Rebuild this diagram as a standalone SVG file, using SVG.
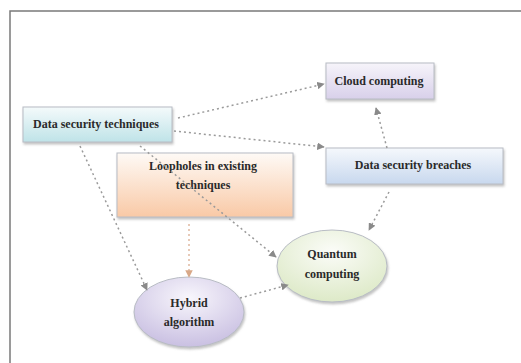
<svg xmlns="http://www.w3.org/2000/svg" width="521" height="363" viewBox="0 0 521 363">
<style>
.box{stroke:#b8bcc4;stroke-width:1}
.lbl{font-family:"Liberation Serif","Times New Roman",serif;font-weight:bold;font-size:12px;fill:#2a2a2a;text-anchor:middle}
.con{fill:none;stroke:#9a9a9a;stroke-width:1.5;stroke-dasharray:2 3}
.con2{fill:none;stroke:#e0b8a0;stroke-width:1.5;stroke-dasharray:2 3}
</style>
<defs>
<linearGradient id="gCyan" x1="0" y1="0" x2="0" y2="1"><stop offset="0" stop-color="#f4fafb"/><stop offset="1" stop-color="#bfe3e8"/></linearGradient>
<linearGradient id="gLav" x1="0" y1="0" x2="0" y2="1"><stop offset="0" stop-color="#f6f4fa"/><stop offset="1" stop-color="#d8d0ea"/></linearGradient>
<linearGradient id="gBlue" x1="0" y1="0" x2="0" y2="1"><stop offset="0" stop-color="#f5f8fc"/><stop offset="1" stop-color="#c8d8ee"/></linearGradient>
<linearGradient id="gPeach" x1="0" y1="0" x2="0" y2="1"><stop offset="0" stop-color="#fefaf6"/><stop offset="1" stop-color="#f9c9a6"/></linearGradient>
<radialGradient id="gGreen" cx="0.5" cy="0.3" r="0.75"><stop offset="0" stop-color="#fbfcf8"/><stop offset="1" stop-color="#dbe8c4"/></radialGradient>
<radialGradient id="gPurple" cx="0.5" cy="0.3" r="0.75"><stop offset="0" stop-color="#f8f6fc"/><stop offset="1" stop-color="#c6bce0"/></radialGradient>
<filter id="sh" x="-10%" y="-10%" width="130%" height="140%"><feDropShadow dx="1" dy="2" stdDeviation="1.2" flood-color="#888" flood-opacity="0.5"/></filter>
<marker id="arr" viewBox="0 0 10 10" refX="9" refY="5" markerWidth="5" markerHeight="5" orient="auto"><path d="M0,0 L10,5 L0,10 z" fill="#8a8a8a"/></marker>
<marker id="arr2" viewBox="0 0 10 10" refX="9" refY="5" markerWidth="5" markerHeight="5" orient="auto"><path d="M0,0 L10,5 L0,10 z" fill="#d8a888"/></marker>
</defs>
<rect x="0" y="0" width="521" height="363" fill="#ffffff"/>
<path d="M10,363 L10,11 L521,11" fill="none" stroke="#7a7a7a" stroke-width="1.5"/>

<g id="n-dst"><rect class="box" x="23" y="107" width="149" height="35" fill="url(#gCyan)" filter="url(#sh)"/><text class="lbl" x="96" y="128">Data security techniques</text></g>
<g id="n-cloud"><rect class="box" x="326" y="63" width="108" height="36" fill="url(#gLav)" filter="url(#sh)"/><text class="lbl" x="379" y="85">Cloud computing</text></g>
<g id="n-dsb"><rect class="box" x="326" y="148" width="177" height="36" fill="url(#gBlue)" filter="url(#sh)"/><text class="lbl" x="413" y="169">Data security breaches</text></g>
<g id="n-loop"><rect class="box" x="117" y="153" width="176" height="64" fill="url(#gPeach)" filter="url(#sh)"/><text class="lbl" x="203" y="170">Loopholes in existing</text><text class="lbl" x="203" y="189">techniques</text></g>
<g id="n-quantum"><ellipse class="box" cx="332" cy="266" rx="55" ry="36" fill="url(#gGreen)" filter="url(#sh)"/><text class="lbl" x="332" y="258">Quantum</text><text class="lbl" x="332" y="278">computing</text></g>
<g id="n-hybrid"><ellipse class="box" cx="189" cy="312" rx="55" ry="35" fill="url(#gPurple)" filter="url(#sh)"/><text class="lbl" x="189" y="307">Hybrid</text><text class="lbl" x="189" y="326">algorithm</text></g>

<g id="connectors">
<path class="con" d="M178,118 L324,84" marker-end="url(#arr)"/>
<path class="con" d="M174,131 L324,147" marker-end="url(#arr)"/>
<path class="con" d="M387,148 L376,108" marker-end="url(#arr)"/>
<path class="con" d="M389,192 L369,230" marker-end="url(#arr)"/>
<path class="con" d="M80,146 L147,290" marker-end="url(#arr)"/>
<path class="con2" d="M189,224 L189,277" marker-end="url(#arr2)"/>
<path class="con" d="M140,146 L276,257" marker-end="url(#arr)"/>
<path class="con" d="M240,298 L288,285" marker-end="url(#arr)"/>
</g>
</svg>
